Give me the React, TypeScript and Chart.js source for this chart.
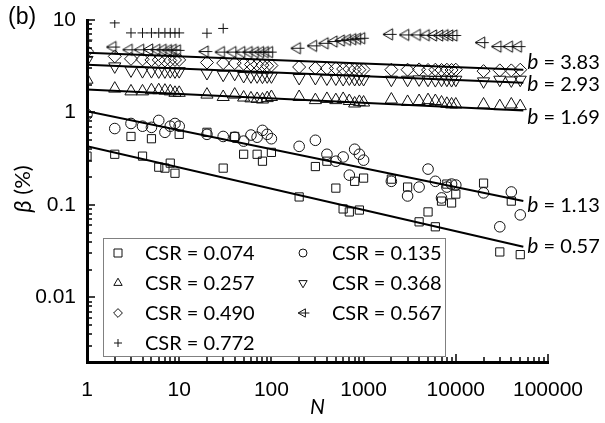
import React, { useEffect, useRef } from 'react';
import { Chart, registerables } from 'chart.js';

Chart.register(...registerables);

// ---------------- data ----------------
const SERIES_LABELS = ['CSR = 0.074', 'CSR = 0.135', 'CSR = 0.257', 'CSR = 0.368', 'CSR = 0.490', 'CSR = 0.567', 'CSR = 0.772'];

const N_ALL = [1, 2, 3, 4, 5, 6, 7, 8, 9, 10, 20, 30, 40, 50, 60, 70, 80, 90, 100, 200, 300, 400, 500, 600, 700, 800, 900, 1000, 2000, 3000, 4000, 5000, 6000, 7000, 8000, 9000, 10000, 20000, 30000, 40000, 50000];
const N_074 = [1, 2, 3, 4, 5, 6, 7, 8, 9, 10, 20, 30, 40, 50, 70, 80, 100, 200, 300, 400, 500, 600, 700, 800, 900, 1000, 2000, 3000, 4000, 5000, 6000, 7000, 8000, 9000, 10000, 20000, 30000, 40000, 50000];
const N_772 = [1, 2, 3, 4, 5, 6, 7, 8, 9, 10, 20, 30];

const BETA_074 = [0.337, 0.353, 0.55, 0.337, 0.52, 0.256, 0.25, 0.283, 0.22, 0.58, 0.61, 0.25, 0.55, 0.353, 0.353, 0.297, 0.37, 0.122, 0.26, 0.297, 0.152, 0.0905, 0.084, 0.18, 0.088, 0.195, 0.19, 0.156, 0.0656, 0.084, 0.058, 0.11, 0.168, 0.105, 0.131, 0.172, 0.031, 0.11, 0.029];
const BETA_135 = [0.95, 0.67, 0.76, 0.71, 0.69, 0.82, 0.61, 0.71, 0.76, 0.71, 0.58, 0.55, 0.54, 0.49, 0.57, 0.54, 0.64, 0.58, 0.52, 0.43, 0.5, 0.353, 0.297, 0.33, 0.21, 0.4, 0.353, 0.305, 0.18, 0.125, 0.156, 0.244, 0.18, 0.119, 0.156, 0.168, 0.164, 0.135, 0.058, 0.138, 0.078];
const BETA_257 = [2.26, 1.81, 1.69, 1.69, 1.74, 1.74, 1.72, 1.69, 1.63, 1.63, 1.56, 1.47, 1.56, 1.45, 1.42, 1.4, 1.38, 1.43, 1.47, 1.47, 1.36, 1.4, 1.36, 1.4, 1.33, 1.25, 1.3, 1.28, 1.38, 1.3, 1.33, 1.36, 1.33, 1.28, 1.24, 1.22, 1.22, 1.22, 1.17, 1.22, 1.17];
const BETA_368 = [3.7, 3.15, 2.85, 2.8, 2.8, 2.78, 2.78, 2.8, 2.78, 2.8, 2.67, 2.56, 2.62, 2.48, 2.46, 2.46, 2.44, 2.46, 2.46, 2.36, 2.36, 2.33, 2.33, 2.3, 2.33, 2.3, 2.3, 2.3, 2.26, 2.26, 2.28, 2.26, 2.24, 2.26, 2.26, 2.24, 2.26, 2.17, 2.26, 2.22, 2.26];
const BETA_490 = [4.6, 4.04, 3.8, 3.75, 3.7, 3.7, 3.65, 3.65, 3.7, 3.7, 3.47, 3.42, 3.42, 3.36, 3.3, 3.3, 3.25, 3.2, 3.22, 3.1, 3.02, 3.0, 3.0, 2.95, 2.95, 2.92, 2.9, 2.92, 2.9, 2.9, 2.92, 2.88, 2.9, 2.88, 2.9, 2.88, 2.9, 2.8, 2.85, 2.85, 2.9];
const BETA_567 = [6.1, 5.1, 4.76, 4.76, 4.8, 4.76, 4.76, 4.72, 4.76, 4.7, 4.56, 4.5, 4.5, 4.5, 4.5, 4.48, 4.5, 4.5, 4.5, 4.95, 5.25, 5.6, 5.85, 6.0, 6.1, 6.2, 6.25, 6.35, 7.0, 6.9, 6.9, 6.85, 6.8, 6.8, 6.85, 6.8, 6.8, 5.7, 5.16, 5.16, 5.16];
const BETA_772 = [8.1, 9.3, 7.25, 7.25, 7.25, 7.25, 7.25, 7.25, 7.25, 7.25, 7.2, 8.1];

// power-law fits (start / end)
const FIT_N = [1, 54000];
const FIT_490 = [4.42, 2.9];
const FIT_368 = [3.28, 2.1];
const FIT_257 = [1.77, 1.05];
const FIT_135 = [1.03, 0.11];
const FIT_074 = [0.43, 0.0353];
const FIT_B = ['3.83', '2.93', '1.69', '1.13', '0.57'];

const X_TICK_LABELS = ['1', '10', '100', '1000', '10000', '100000'];
const Y_TICK_LABELS = ['0.01', '0.1', '1', '10'];

// ---------------- helpers ----------------
const pts = (xs: number[], ys: number[]) => xs.map((x, i) => ({ x, y: ys[i] }));

const isPow10 = (v: number) => Math.abs(Math.log10(v) - Math.round(Math.log10(v))) < 1e-6;

function labelFor(v: number, labels: string[]) {
  if (!isPow10(v)) return '';
  const found = labels.find((l) => Math.abs(parseFloat(l) - v) / v < 1e-6);
  return found ?? '';
}

function makeLeftTri(r: number, lw: number) {
  const c = document.createElement('canvas');
  const w = Math.ceil(2 * r + 8);
  const h = Math.ceil(2 * r + 2);
  c.width = w;
  c.height = h;
  const g = c.getContext('2d')!;
  const cx = w / 2 - 2;
  const cy = h / 2;
  drawLeftTri(g, cx, cy, r, lw);
  return c;
}

function drawLeftTri(g: CanvasRenderingContext2D, cx: number, cy: number, r: number, lw: number) {
  g.save();
  g.strokeStyle = '#111';
  g.lineWidth = lw;
  g.beginPath();
  g.moveTo(cx - r, cy);
  g.lineTo(cx + r * 0.5, cy - r * 0.866);
  g.lineTo(cx + r * 0.5, cy + r * 0.866);
  g.closePath();
  g.stroke();
  g.beginPath();
  g.moveTo(cx - r, cy);
  g.lineTo(cx + r * 0.5 + 4, cy);
  g.stroke();
  g.restore();
}

function drawMarker(g: CanvasRenderingContext2D, kind: string, x: number, y: number, s: number) {
  if (kind === 'left') {
    drawLeftTri(g, x, y, s * 1.2, 1);
    return;
  }
  g.save();
  g.strokeStyle = '#111';
  g.lineWidth = 1;
  g.beginPath();
  switch (kind) {
    case 'square':
      g.rect(x - s, y - s, 2 * s, 2 * s);
      break;
    case 'circle':
      g.arc(x, y, s, 0, Math.PI * 2);
      break;
    case 'up':
      g.moveTo(x, y - s * 1.2);
      g.lineTo(x + s * 1.04, y + s * 0.6);
      g.lineTo(x - s * 1.04, y + s * 0.6);
      g.closePath();
      break;
    case 'down':
      g.moveTo(x, y + s * 1.2);
      g.lineTo(x + s * 1.04, y - s * 0.6);
      g.lineTo(x - s * 1.04, y - s * 0.6);
      g.closePath();
      break;
    case 'diamond':
      g.moveTo(x - s * 1.1, y);
      g.lineTo(x, y - s * 1.1);
      g.lineTo(x + s * 1.1, y);
      g.lineTo(x, y + s * 1.1);
      g.closePath();
      break;
    case 'plus':
      g.moveTo(x - s, y);
      g.lineTo(x + s, y);
      g.moveTo(x, y - s);
      g.lineTo(x, y + s);
      break;
  }
  g.stroke();
  g.restore();
}

const LEGEND_KINDS = ['square', 'circle', 'up', 'down', 'diamond', 'left', 'plus'];
const TEXT_FONT = 'Lato';

// ---------------- plugins ----------------
const decorPlugin = {
  id: 'decor',
  afterDraw(chart: any) {
    const ctx: CanvasRenderingContext2D = chart.ctx;
    const xs = chart.scales.x;
    const ys = chart.scales.y;
    ctx.save();

    // inward ticks
    ctx.strokeStyle = '#000';
    ctx.lineWidth = 1.5;
    for (let e = 0; e <= 5; e++) {
      for (let m = 1; m <= 9; m++) {
        const v = m * Math.pow(10, e);
        if (v < xs.min - 1e-9 || v > xs.max + 1e-9) continue;
        const px = Math.round(xs.getPixelForValue(v));
        const len = m === 1 ? 8 : 5;
        ctx.beginPath();
        ctx.moveTo(px, xs.top);
        ctx.lineTo(px, xs.top - len);
        ctx.stroke();
      }
    }
    for (let e = -3; e <= 1; e++) {
      for (let m = 1; m <= 9; m++) {
        const v = m * Math.pow(10, e);
        if (v < ys.min * 0.9999 || v > ys.max * 1.0001) continue;
        const py = Math.round(ys.getPixelForValue(v));
        const len = m === 1 ? 8 : 5;
        ctx.beginPath();
        ctx.moveTo(ys.right, py);
        ctx.lineTo(ys.right + len, py);
        ctx.stroke();
      }
    }

    // fit labels
    const fits = [FIT_490, FIT_368, FIT_257, FIT_135, FIT_074];
    const dy = [-7, 2, 7, 4, 0];
    ctx.fillStyle = '#000';
    ctx.textBaseline = 'middle';
    ctx.textAlign = 'left';
    fits.forEach((f, i) => {
      const px = xs.getPixelForValue(FIT_N[1]) + 4;
      const py = ys.getPixelForValue(f[1]) + dy[i];
      ctx.font = `italic 21px ${TEXT_FONT}`;
      ctx.fillText('b', px, py);
      const w = ctx.measureText('b').width;
      ctx.font = `20px ${TEXT_FONT}`;
      ctx.fillText(' = ' + FIT_B[i], px + w, py);
    });

    // legend box
    const L = 103, T = 238, W = 342, H = 118;
    ctx.fillStyle = '#fff';
    ctx.fillRect(L, T, W, H);
    ctx.strokeStyle = '#808080';
    ctx.lineWidth = 1;
    ctx.strokeRect(L + 0.5, T + 0.5, W, H);
    const rowY = [253, 283, 313, 343];
    const colMark = [118, 303];
    const colText = [145, 332];
    SERIES_LABELS.forEach((lab, i) => {
      const r = Math.floor(i / 2);
      const c = i % 2;
      drawMarker(ctx, LEGEND_KINDS[i], colMark[c], rowY[r], 4);
      ctx.fillStyle = '#000';
      ctx.textBaseline = 'middle';
      ctx.textAlign = 'left';
      ctx.font = `20px ${TEXT_FONT}`;
      ctx.fillText(lab, colText[c], rowY[r] + 1);
    });

    // axis titles and panel tag
    ctx.fillStyle = '#000';
    ctx.font = `italic 21px ${TEXT_FONT}`;
    ctx.textAlign = 'center';
    ctx.textBaseline = 'middle';
    ctx.fillText('N', (xs.left + xs.right) / 2, 407);

    ctx.save();
    ctx.translate(23, 189);
    ctx.rotate(-Math.PI / 2);
    ctx.font = `italic 24px ${TEXT_FONT}`;
    const wb = ctx.measureText('β').width;
    ctx.font = `22px ${TEXT_FONT}`;
    const wr = ctx.measureText(' (%)').width;
    const start = -(wb + wr) / 2;
    ctx.textAlign = 'left';
    ctx.font = `italic 24px ${TEXT_FONT}`;
    ctx.fillText('β', start, 0);
    ctx.font = `22px ${TEXT_FONT}`;
    ctx.fillText(' (%)', start + wb, 0);
    ctx.restore();

    ctx.font = '23px "Liberation Sans"';
    ctx.textAlign = 'left';
    ctx.fillText('(b)', 8, 18);
    ctx.restore();
  },
};

// ---------------- component ----------------
export default function App() {
  const ref = useRef<HTMLCanvasElement | null>(null);

  useEffect(() => {
    if (!ref.current) return;
    const leftTri = makeLeftTri(6.5, 1);
    const markerBase = { showLine: false, backgroundColor: 'rgba(0,0,0,0)', borderColor: '#111', pointBorderWidth: 1 };
    const fitBase = { type: 'line' as const, borderColor: '#000', borderWidth: 2, pointRadius: 0, fill: false };

    const chart = new Chart(ref.current, {
      type: 'scatter',
      data: {
        datasets: [
          { ...fitBase, label: 'fit490', data: pts(FIT_N, FIT_490) },
          { ...fitBase, label: 'fit368', data: pts(FIT_N, FIT_368) },
          { ...fitBase, label: 'fit257', data: pts(FIT_N, FIT_257) },
          { ...fitBase, label: 'fit135', data: pts(FIT_N, FIT_135) },
          { ...fitBase, label: 'fit074', data: pts(FIT_N, FIT_074) },
          { ...markerBase, label: SERIES_LABELS[0], data: pts(N_074, BETA_074), pointStyle: 'rect', pointRadius: 5.8 },
          { ...markerBase, label: SERIES_LABELS[1], data: pts(N_ALL, BETA_135), pointStyle: 'circle', pointRadius: 5.3 },
          { ...markerBase, label: SERIES_LABELS[2], data: pts(N_ALL, BETA_257), pointStyle: 'triangle', pointRadius: 7 },
          { ...markerBase, label: SERIES_LABELS[3], data: pts(N_ALL, BETA_368), pointStyle: 'triangle', pointRotation: 180, pointRadius: 7 },
          { ...markerBase, label: SERIES_LABELS[4], data: pts(N_ALL, BETA_490), pointStyle: 'rectRot', pointRadius: 6.5 },
          { ...markerBase, label: SERIES_LABELS[5], data: pts(N_ALL, BETA_567), pointStyle: leftTri as any, pointRadius: 6.5 },
          { ...markerBase, label: SERIES_LABELS[6], data: pts(N_772, BETA_772), pointStyle: 'cross', pointRadius: 5 },
        ] as any,
      },
      options: {
        responsive: false,
        animation: false,
        events: [],
        layout: { padding: { left: 0, top: 20, right: 57, bottom: 0 } },
        plugins: { legend: { display: false }, tooltip: { enabled: false } },
        scales: {
          x: {
            type: 'logarithmic',
            min: 1,
            max: 100000,
            grid: { display: false },
            border: { display: true, color: '#000', width: 3 },
            ticks: {
              autoSkip: false,
              maxRotation: 0,
              padding: 8,
              color: '#000',
              font: { family: '"Liberation Sans"', size: 21 },
              callback: (v: any) => labelFor(Number(v), X_TICK_LABELS),
            },
            afterFit: (s: any) => { s.height = 61; },
          },
          y: {
            type: 'logarithmic',
            min: 0.002,
            max: 10,
            grid: { display: false },
            border: { display: true, color: '#000', width: 3 },
            ticks: {
              autoSkip: false,
              padding: 3,
              color: '#000',
              font: { family: '"Liberation Sans"', size: 21 },
              callback: (v: any) => labelFor(Number(v), Y_TICK_LABELS),
            },
            afterFit: (s: any) => { s.width = 87; },
          },
        },
      },
      plugins: [decorPlugin],
    });
    return () => chart.destroy();
  }, []);

  return (
    <div style={{ position: 'absolute', left: 0, top: 0, width: 605, height: 423, background: '#fff' }}>
      <canvas ref={ref} width={605} height={423} style={{ display: 'block', width: 605, height: 423 }} />
    </div>
  );
}
